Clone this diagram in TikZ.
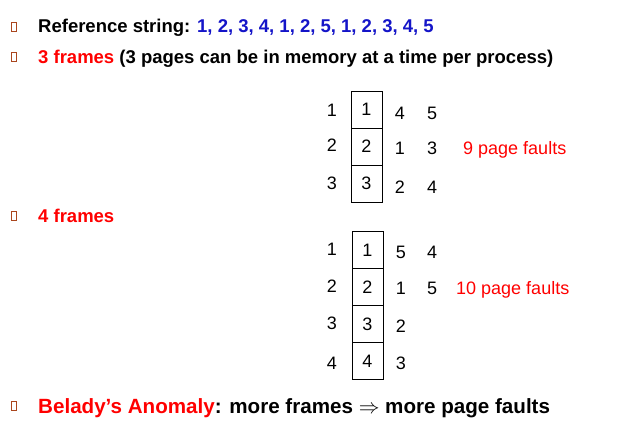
\documentclass[tikz,border=0pt]{standalone}
\usepackage{fontspec}
\setmainfont{Liberation Sans}
\definecolor{bul}{RGB}{170,70,30}
\definecolor{refblue}{RGB}{20,20,200}
\begin{document}
\begin{tikzpicture}[x=1pt,y=-1pt,
  bultxt/.style={anchor=base west,inner sep=0pt,font=\fontsize{18.5}{22}\selectfont\bfseries},
  bigtxt/.style={anchor=base west,inner sep=0pt,font=\fontsize{20.6}{24}\selectfont\bfseries},
  bulbox/.style={draw=bul,line width=0.9pt,minimum width=5pt,minimum height=9pt,inner sep=0pt},
  num/.style={anchor=base,inner sep=0pt,font=\fontsize{18}{21}\selectfont},
  cell/.style={draw,line width=0.6pt,minimum width=31pt,minimum height=37pt,inner sep=0pt,font=\fontsize{18}{21}\selectfont},
  fault/.style={anchor=base west,inner sep=0pt,text=red,font=\fontsize{18}{21}\selectfont}]
\useasboundingbox (0,0) rectangle (621,429);
% bullets and lines
\node[bulbox] (b1) at (14,27) {};
\node[bultxt] (t1) at (38,32.5) {Reference string: \textcolor{refblue}{1, 2, 3, 4, 1, 2, 5, 1, 2, 3, 4, 5}};
\node[bulbox] (b2) at (14,57) {};
\node[bultxt] (t2) at (38,63.5) {\textcolor{red}{3 frames} (3 pages can be in memory at a time per process)};
\node[bulbox] (b3) at (14,216) {};
\node[bultxt,text=red] (t3) at (38,222.5) {4 frames};
\node[bulbox] (b4) at (14,406) {};
\node[bigtxt] (t4) at (38,413) {\textcolor{red}{Belady’s Anomaly}: more frames $\Rightarrow$ more page faults};
% table 1 (3 frames)
\node[cell] (a1) at (366.5,109.5) {1};
\node[cell] (a2) at (366.5,146.5) {2};
\node[cell] (a3) at (366.5,183.5) {3};
\node[num] (l1) at (332,116.5) {1};
\node[num] (l2) at (332,151.5) {2};
\node[num] (l3) at (332,189.5) {3};
\node[num] (r11) at (400,119) {4};
\node[num] (r12) at (432,119) {5};
\node[num] (r21) at (400,154.5) {1};
\node[num] (r22) at (432,154.5) {3};
\node[num] (r31) at (400,193) {2};
\node[num] (r32) at (432,193) {4};
\node[fault] (f1) at (463,154.5) {9 page faults};
% table 2 (4 frames)
\node[cell] (c1) at (367.5,250) {1};
\node[cell] (c2) at (367.5,287) {2};
\node[cell] (c3) at (367.5,324) {3};
\node[cell] (c4) at (367.5,361) {4};
\node[num] (m1) at (332,255.5) {1};
\node[num] (m2) at (332,292.5) {2};
\node[num] (m3) at (332,329.5) {3};
\node[num] (m4) at (332,369.5) {4};
\node[num] (s11) at (401,258.5) {5};
\node[num] (s12) at (432,258.5) {4};
\node[num] (s21) at (401,294.5) {1};
\node[num] (s22) at (432,294.5) {5};
\node[num] (s31) at (401,332.5) {2};
\node[num] (s41) at (401,369.5) {3};
\node[fault] (f2) at (456,294.5) {10 page faults};
\end{tikzpicture}
\end{document}
